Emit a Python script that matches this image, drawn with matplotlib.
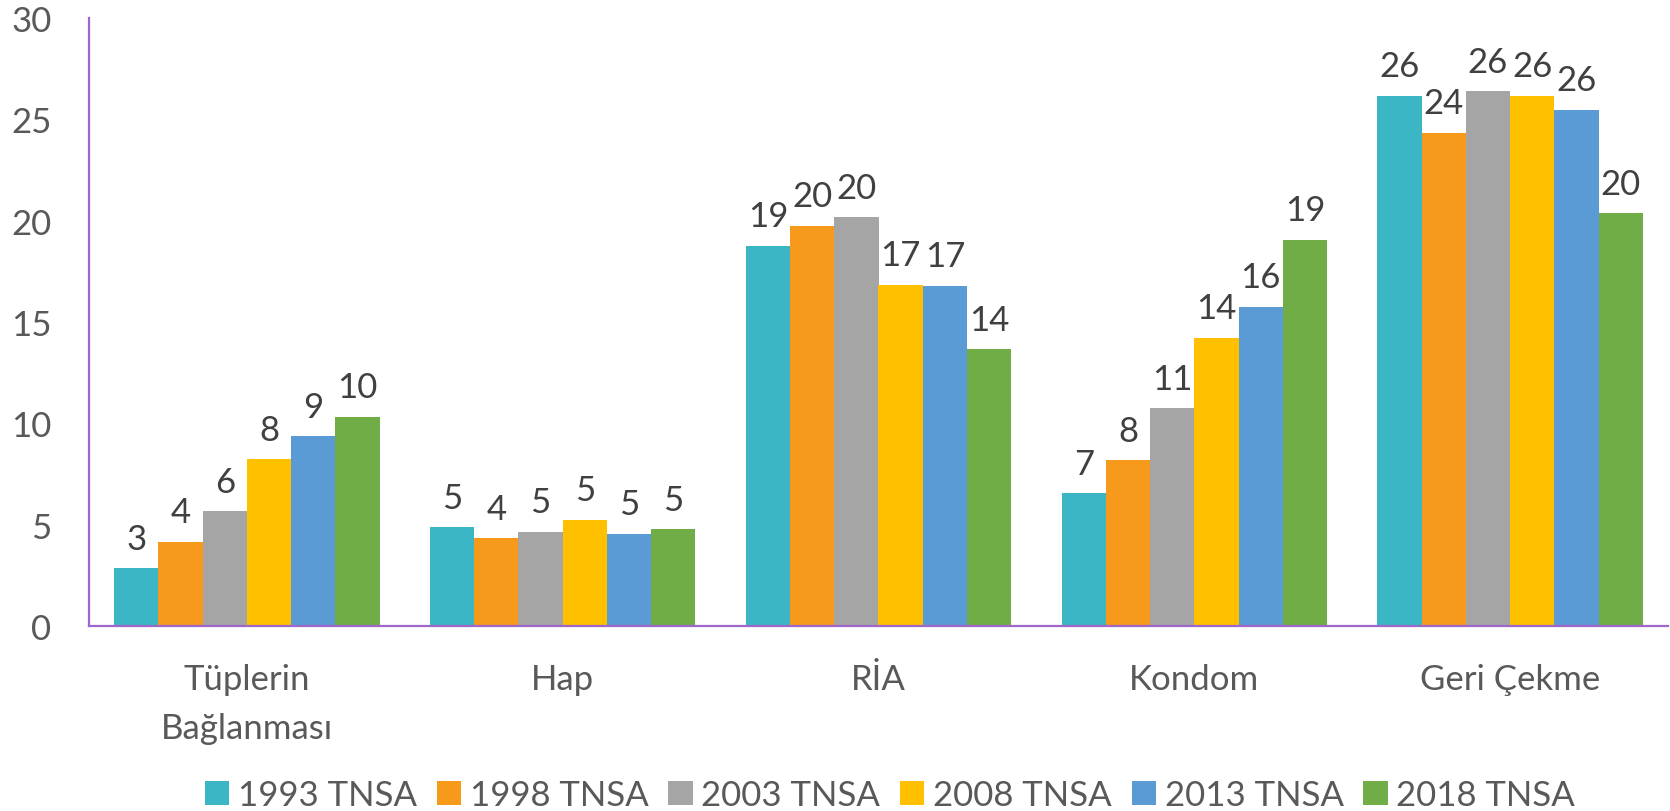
import matplotlib
matplotlib.use("Agg")
import matplotlib.pyplot as plt
import numpy as np

plt.rcParams['font.family'] = ['Lato', 'DejaVu Sans']

categories = ["Tüplerin\nBağlanması", "Hap", "RİA", "Kondom", "Geri Çekme"]
series_names = ["1993 TNSA", "1998 TNSA", "2003 TNSA", "2008 TNSA", "2013 TNSA", "2018 TNSA"]
v1993 = [2.85, 4.88, 18.76, 6.55, 26.16]
v1998 = [4.16, 4.34, 19.75, 8.18, 24.35]
v2003 = [5.66, 4.66, 20.16, 10.75, 26.38]
v2008 = [8.24, 5.24, 16.84, 14.22, 26.16]
v2013 = [9.36, 4.56, 16.79, 15.75, 25.47]
v2018 = [10.33, 4.77, 13.67, 19.06, 20.37]
labels1993 = ["3", "5", "19", "7", "26"]
labels1998 = ["4", "4", "20", "8", "24"]
labels2003 = ["6", "5", "20", "11", "26"]
labels2008 = ["8", "5", "17", "14", "26"]
labels2013 = ["9", "5", "17", "16", "26"]
labels2018 = ["10", "5", "14", "19", "20"]
yticks = [0, 5, 10, 15, 20, 25, 30]

series = [v1993, v1998, v2003, v2008, v2013, v2018]
labels = [labels1993, labels1998, labels2003, labels2008, labels2013, labels2018]
colors = ["#3BB6C4", "#F7991B", "#A5A5A5", "#FFC000", "#5B9BD5", "#70AD47"]

fig = plt.figure(figsize=(16.7, 8.12), dpi=100)
ax = fig.add_axes([89/1670, 1 - 627/812, (1668-89)/1670, (627-19)/812])

x = np.arange(len(categories))
n = len(series)
w = 0.84 / n
for i, (vals, labs, c, name) in enumerate(zip(series, labels, colors, series_names)):
    pos = x - 0.42 + w * (i + 0.5)
    ax.bar(pos, vals, width=w, color=c, label=name, zorder=2)
    for xp, v, t in zip(pos, vals, labs):
        ax.annotate(t, (xp, v), xytext=(0, 14), textcoords='offset points',
                    ha='center', va='baseline', fontsize=25, color='#404040')

ax.set_xlim(-0.5, 4.5)
ax.set_ylim(0, 30)
ax.set_yticks(yticks)
ax.set_xticks(x)
ax.set_xticklabels(categories, linespacing=1.65)
for s in ['top', 'right']:
    ax.spines[s].set_visible(False)
for s in ['left', 'bottom']:
    ax.spines[s].set_color('#9E67C9')
    ax.spines[s].set_linewidth(1.6)
ax.tick_params(axis='both', length=0, labelsize=25, colors='#595959')
ax.tick_params(axis='y', pad=27)
ax.tick_params(axis='x', pad=27)

leg = fig.legend(loc='center', bbox_to_anchor=(0.533, 1 - 796/812), ncol=6, frameon=False,
                 fontsize=25, handlelength=0.7, handleheight=0.7, handletextpad=0.25,
                 columnspacing=0.57, labelcolor='#595959')

fig.savefig("out.png", dpi=100)
